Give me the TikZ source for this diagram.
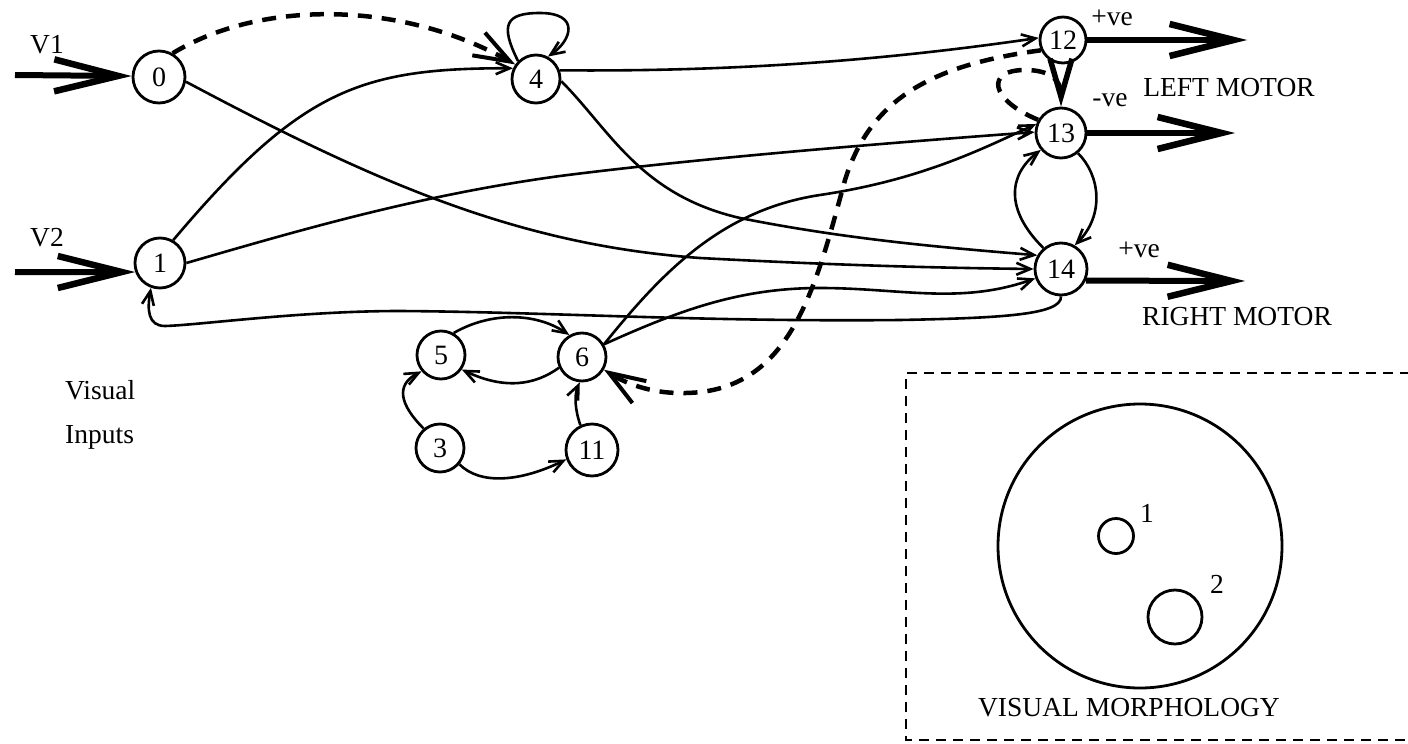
\documentclass[tikz,border=0pt]{standalone}
\usepackage{fontspec}
\setmainfont{Liberation Serif}
\usetikzlibrary{arrows.meta}
\begin{document}
\begin{tikzpicture}[x=1pt,y=-1pt,
  every node/.style={font=\fontsize{27.5}{32}\selectfont},
  nd/.style={circle,draw,line width=2.8pt,minimum size=48pt,inner sep=0pt,font=\fontsize{28}{32}\selectfont},
  edge/.style={line width=2.6pt,-{Straight Barb[length=14pt,width=12pt]}},
  big/.style={line width=6pt,-{Straight Barb[length=64pt,width=32pt,line width=6.5pt]}},
  dsh/.style={line width=4.5pt,dash pattern=on 14pt off 10pt},
  dtip/.style={-{Straight Barb[length=36pt,width=26pt,line width=4pt]}},
  lbl/.style={inner sep=0pt}
]
\useasboundingbox (0,0) rectangle (1408,744);

% nodes
\node[nd,minimum size=52pt] (n0) at (159,77) {0};
\node[nd,minimum size=50pt] (n1) at (160,263) {1};
\node[nd] (n4) at (536,79) {4};
\node[nd,minimum size=46pt] (n12) at (1063,40) {12};
\node[nd,minimum size=50pt] (n13) at (1061,133) {13};
\node[nd,minimum size=52pt] (n14) at (1061,269) {14};
\node[nd] (n5) at (441,355) {5};
\node[nd] (n6) at (582,357) {6};
\node[nd] (n3) at (440,448) {3};
\node[nd,minimum size=52pt] (n11) at (592,450) {11};

% free ends
\coordinate (v1s) at (15,75);
\coordinate (v2s) at (15,272);
\coordinate (o12) at (1247,40);
\coordinate (o13) at (1235,133);
\coordinate (o14) at (1245,281);

% labels
\node[lbl] (tv1) at (47,45) {V1};
\node[lbl] (tv2) at (47,238) {V2};
\node[lbl,anchor=west] (tvis) at (65,390) {Visual};
\node[lbl,anchor=west] (tinp) at (65,437) {Inputs};
\node[lbl] (tp12) at (1112,18) {+ve};
\node[lbl] (tm13) at (1110,100) {-ve};
\node[lbl] (tlm) at (1229,88) {LEFT MOTOR};
\node[lbl] (tp14) at (1139,250) {+ve};
\node[lbl] (trm) at (1237,317) {RIGHT MOTOR};

% input / output arrows
\draw[big] (v1s) -- (n0.178);
\draw[big] (v2s) -- (n1.200);
\draw[big] (n12.east) -- (o12);
\draw[big] (n13.east) -- (o13);
\draw[big] (n14.-25) -- (o14);

% dashed connections
\draw[dsh,dtip] (n0.60) .. controls (260,0) and (400,0) .. (n4.145);
\draw[dsh,dtip] (n12.205) .. controls (930,65) and (870,100) .. (845,180)
   .. controls (815,290) and (790,395) .. (680,393)
   .. controls (650,393) and (625,383) .. (n6.330);
\draw[dsh,-{Straight Barb[length=38pt,width=22pt,line width=5.5pt]}]
   (n13.150) .. controls (990,100) and (985,70) .. (1025,70)
   .. controls (1050,70) and (1061,80) .. (n13.north);

% solid connections
\draw[edge] (n4.135) .. controls (500,25) and (505,13) .. (540,13)
   .. controls (580,13) and (572,40) .. (n4.62);
\draw[edge] (n1.60) .. controls (300,90) and (360,68) .. (n4.155);
\draw[edge] (n4.20) .. controls (750,72) and (900,58) .. (n12.175);
\draw[edge] (n0.-10) .. controls (380,185) and (520,245) .. (700,258)
   .. controls (850,266) and (950,268) .. (n14.180);
\draw[edge] (n4.-5) .. controls (610,130) and (640,195) .. (740,218)
   .. controls (850,240) and (950,248) .. (n14.150);
\draw[edge] (n1.0) .. controls (300,230) and (420,195) .. (560,176)
   .. controls (700,158) and (900,142) .. (n13.178);
\draw[edge] (n6.30) .. controls (660,275) and (720,210) .. (820,195)
   .. controls (920,180) and (980,150) .. (n13.160);
\draw[edge] (n6.30) .. controls (680,310) and (740,288) .. (820,288)
   .. controls (900,288) and (960,305) .. (n14.200);
\draw[edge] (n14.130) .. controls (1005,210) and (1008,175) .. (n13.220);
\draw[edge] (n13.310) .. controls (1100,175) and (1105,215) .. (n14.60);
\draw[edge] (n14.south) .. controls (1062,315) and (1000,318) .. (900,320)
   .. controls (700,322) and (550,312) .. (400,311)
   .. controls (300,311) and (200,325) .. (165,326)
   .. controls (148,326) and (147,310) .. (n1.250);
\draw[edge] (n5.60) .. controls (490,312) and (535,312) .. (n6.120);
\draw[edge] (n6.205) .. controls (535,385) and (505,390) .. (n5.-35);
\draw[edge] (n3.130) .. controls (400,405) and (395,385) .. (n5.220);
\draw[edge] (n3.-40) .. controls (480,485) and (520,482) .. (n11.200);
\draw[edge] (n11.115) .. controls (575,410) and (574,395) .. (n6.265);

% visual morphology box
\draw[line width=2.8pt,dash pattern=on 10pt off 7pt] (1410,373) -- (906,373) -- (906,740) -- (1410,740);
\node[circle,draw,line width=2.8pt,minimum size=284pt,inner sep=0pt] (eye) at (1140,546) {};
\node[circle,draw,line width=2.8pt,minimum size=35pt,inner sep=0pt] (s1) at (1116,536) {};
\node[circle,draw,line width=2.8pt,minimum size=54pt,inner sep=0pt] (s2) at (1175,617) {};
\node[lbl] (ts1) at (1147,513) {1};
\node[lbl] (ts2) at (1217,584) {2};
\node[lbl] (tvm) at (1129,708) {VISUAL MORPHOLOGY};
\end{tikzpicture}
\end{document}
